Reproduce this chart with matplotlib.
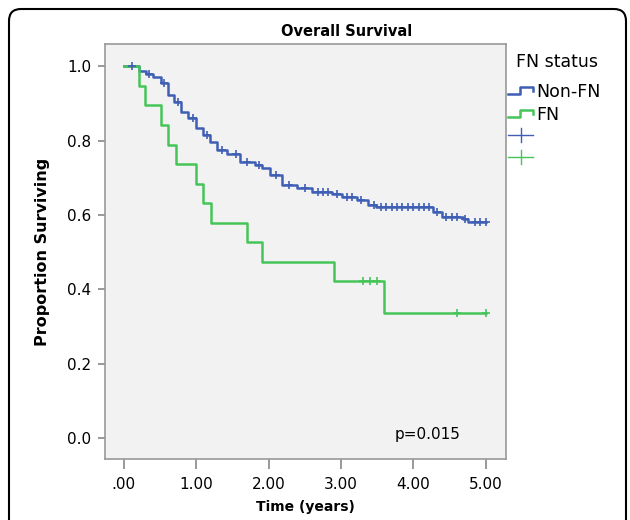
import numpy as np
import matplotlib
matplotlib.use("Agg")
import matplotlib.pyplot as plt
from matplotlib.patches import FancyBboxPatch
from matplotlib.lines import Line2D

# Kaplan-Meier steps
nonfn_times = [0, 0.21, 0.31, 0.40, 0.51, 0.61, 0.70, 0.79, 0.89, 1.00, 1.09, 1.19, 1.29, 1.42,
               1.60, 1.81, 1.91, 2.02, 2.18, 2.39, 2.60, 2.87, 3.01, 3.22, 3.37, 3.49, 4.27,
               4.39, 4.68, 4.75]
nonfn_surv = [1.0, 0.987, 0.980, 0.970, 0.954, 0.922, 0.904, 0.877, 0.860, 0.833, 0.815, 0.796,
              0.774, 0.763, 0.742, 0.734, 0.726, 0.707, 0.681, 0.672, 0.661, 0.656, 0.648, 0.640,
              0.626, 0.621, 0.608, 0.594, 0.589, 0.581]
nonfn_censor = [0.11, 0.35, 0.55, 0.75, 0.95, 1.15, 1.35, 1.55, 1.70, 1.87, 2.10, 2.28, 2.50,
                2.68, 2.75, 2.82, 2.95, 3.08, 3.15, 3.28, 3.45, 3.55, 3.62, 3.70, 3.78, 3.85,
                3.93, 4.00, 4.08, 4.15, 4.22, 4.33, 4.45, 4.53, 4.60, 4.72, 4.85, 4.92, 5.0]

fn_times = [0, 0.21, 0.29, 0.51, 0.61, 0.72, 1.00, 1.09, 1.20, 1.70, 1.91, 2.90, 3.60]
fn_surv = [1.0, 0.947, 0.895, 0.842, 0.789, 0.737, 0.684, 0.632, 0.579, 0.526, 0.474, 0.421, 0.337]
fn_censor = [3.30, 3.40, 3.50, 4.60, 5.0]

end_time = 5.0
x_ticks = [0, 1, 2, 3, 4, 5]
x_labels = [".00", "1.00", "2.00", "3.00", "4.00", "5.00"]
y_ticks = [0.0, 0.2, 0.4, 0.6, 0.8, 1.0]
y_labels = ["0.0", "0.2", "0.4", "0.6", "0.8", "1.0"]

blue = "#3f5fb5"
green = "#45c558"


def surv_at(times, surv, t):
    idx = np.searchsorted(times, t, side="right") - 1
    return np.array(surv)[idx]


fig = plt.figure(figsize=(6.3, 5.2), dpi=100)
ax = fig.add_axes([105 / 630, 1 - 459 / 520, 401 / 630, 415 / 520])
ax.set_facecolor("#f2f2f2")

for times, surv, cens, col in [(nonfn_times, nonfn_surv, nonfn_censor, blue),
                               (fn_times, fn_surv, fn_censor, green)]:
    tt = list(times) + [end_time]
    ss = list(surv) + [surv[-1]]
    ax.step(tt, ss, where="post", color=col, lw=1.8, zorder=3)
    ax.plot(cens, surv_at(times, surv, cens), ls="none", marker="+", ms=5.5,
            mew=1.2, color=col, zorder=4)

ax.set_xlim(-0.26, 5.28)
ax.set_ylim(-0.057, 1.06)
ax.set_xticks(x_ticks)
ax.set_xticklabels(x_labels)
ax.set_yticks(y_ticks)
ax.set_yticklabels(y_labels)
ax.tick_params(axis="both", labelsize=11, color="#888888", width=1.2)
ax.tick_params(axis="x", length=7, pad=6)
ax.tick_params(axis="y", length=5, pad=5)
for sp in ax.spines.values():
    sp.set_color("#999999")
    sp.set_linewidth(1.2)

ax.set_ylabel("Proportion Surviving", fontsize=11.5, fontweight="bold", labelpad=12)


def px(x, y):
    return x / 630, 1 - y / 520


fig.text(*px(305, 507), "Time (years)", ha="center", va="center",
         fontsize=10, fontweight="bold")
fig.text(*px(347, 32), "Overall Survival", ha="center", va="center",
         fontsize=10.5, fontweight="bold")
ax.text(4.65, 0.01, "p=0.015", ha="right", va="center", fontsize=11)

# legend drawn by hand in pixel space
fig.text(*px(516, 62), "FN status", ha="left", va="center", fontsize=12.5)
for y_mid, col, label in [(91, blue, "Non-FN"), (114, green, "FN")]:
    xs = [508, 520, 520, 533, 533]
    ys = [y_mid + 3, y_mid + 3, y_mid - 4, y_mid - 4, y_mid]
    fig.add_artist(Line2D([px(x, 0)[0] for x in xs], [px(0, y)[1] for y in ys],
                          color=col, lw=1.8))
    fig.text(*px(536, y_mid + 1), label, ha="left", va="center", fontsize=12.5)
for y_mid, col in [(135, blue), (157, green)]:
    fig.add_artist(Line2D([px(508, 0)[0], px(533, 0)[0]], [px(0, y_mid)[1]] * 2,
                          color=col, lw=1))
    fig.add_artist(Line2D([px(521, 0)[0]] * 2, [px(0, y_mid - 7)[1], px(0, y_mid + 7)[1]],
                          color=col, lw=1))

# outer rounded frame
frame = FancyBboxPatch((9, -40), 617, 511 + 40, boxstyle="round,pad=0,rounding_size=12",
                       transform=None, fill=False, edgecolor="black", lw=1.5)
fig.add_artist(frame)

fig.savefig("out.png", dpi=100)
